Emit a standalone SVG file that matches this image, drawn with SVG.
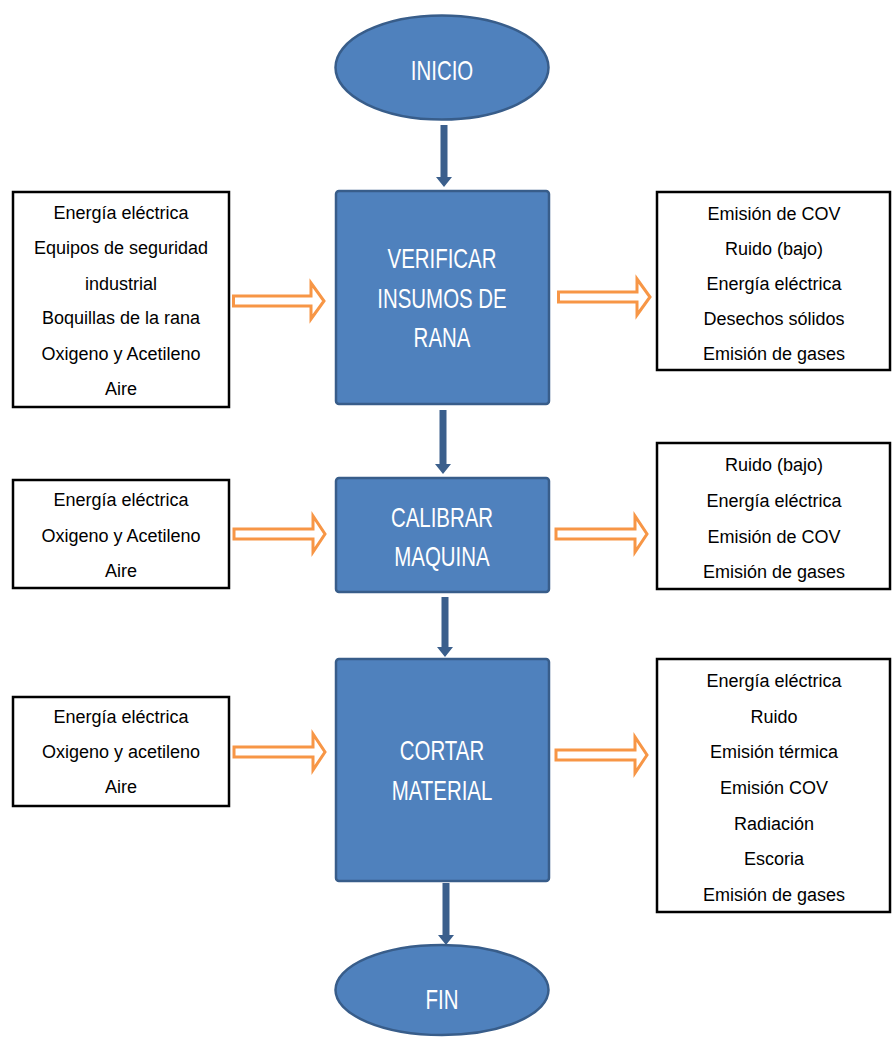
<svg xmlns="http://www.w3.org/2000/svg" width="892" height="1046" viewBox="0 0 892 1046">
  <style>
    .proc { fill: #4f81bd; stroke: #385d8a; stroke-width: 2.5; }
    .side { fill: #ffffff; stroke: #000000; stroke-width: 2.5; }
    .flow { fill: none; stroke: #f79646; stroke-width: 3; stroke-linejoin: miter; }
    .down { fill: #3b5f8c; }
    .lbl { font-family: "Liberation Sans", Arial, sans-serif; font-size: 28px; fill: #ffffff; text-anchor: middle; }
    .txt { font-family: "Liberation Sans", Arial, sans-serif; font-size: 18px; fill: #000000; text-anchor: middle; }
  </style>
  <rect width="892" height="1046" fill="#ffffff"/>

  <!-- vertical flow connectors and material in/out arrows -->
  <g id="connectors">
    <path class="down" d="M440.5 125 H447.5 V177 H452 L444 187 L436 177 H440.5 Z"/>
    <path class="down" d="M439.5 410 H446.5 V464 H451 L443 474 L435 464 H439.5 Z"/>
    <path class="down" d="M441.5 597 H448.5 V647 H453 L445 657 L437 647 H441.5 Z"/>
    <path class="down" d="M442.5 883 H449.5 V935 H454 L446 945 L438 935 H442.5 Z"/>

    <path class="flow" d="M233.5 296 H311 V283 L324 301 L311 319 V306 H233.5 Z"/>
    <path class="flow" d="M558.5 292 H637 V279 L650 297 L637 315 V302 H558.5 Z"/>
    <path class="flow" d="M234 529 H313 V516 L325 534 L313 552 V539 H234 Z"/>
    <path class="flow" d="M556 529 H635 V516 L647 534 L635 552 V539 H556 Z"/>
    <path class="flow" d="M234 747 H313 V734 L325 752 L313 770 V757 H234 Z"/>
    <path class="flow" d="M556 750 H635 V737 L647 755 L635 773 V760 H556 Z"/>
  </g>

  <g id="inicio">
    <ellipse class="proc" cx="442" cy="67.5" rx="106.5" ry="52"/>
    <text class="lbl" transform="translate(442 80) scale(0.73 1)">INICIO</text>
  </g>

  <g id="verificar">
    <rect class="proc" x="336" y="191" width="213" height="213" rx="3"/>
    <text class="lbl" transform="translate(442 268) scale(0.73 1)">VERIFICAR</text>
    <text class="lbl" transform="translate(442 308) scale(0.73 1)">INSUMOS DE</text>
    <text class="lbl" transform="translate(442 347) scale(0.73 1)">RANA</text>
  </g>

  <g id="calibrar">
    <rect class="proc" x="336" y="478" width="213" height="114" rx="3"/>
    <text class="lbl" transform="translate(442 527) scale(0.73 1)">CALIBRAR</text>
    <text class="lbl" transform="translate(442 566) scale(0.73 1)">MAQUINA</text>
  </g>

  <g id="cortar">
    <rect class="proc" x="336" y="659" width="213" height="222" rx="3"/>
    <text class="lbl" transform="translate(442 760) scale(0.73 1)">CORTAR</text>
    <text class="lbl" transform="translate(442 800) scale(0.73 1)">MATERIAL</text>
  </g>

  <g id="fin">
    <ellipse class="proc" cx="442" cy="990" rx="106.5" ry="45"/>
    <text class="lbl" transform="translate(442 1009) scale(0.73 1)">FIN</text>
  </g>

  <g id="entradas-verificar">
    <rect class="side" x="13" y="192" width="216" height="215"/>
    <text class="txt" x="121" y="219">Energía eléctrica</text>
    <text class="txt" x="121" y="254">Equipos de seguridad</text>
    <text class="txt" x="121" y="290">industrial</text>
    <text class="txt" x="121" y="324">Boquillas de la rana</text>
    <text class="txt" x="121" y="360">Oxigeno y Acetileno</text>
    <text class="txt" x="121" y="395">Aire</text>
  </g>

  <g id="salidas-verificar">
    <rect class="side" x="657" y="192" width="233" height="178"/>
    <text class="txt" x="774" y="220">Emisión de COV</text>
    <text class="txt" x="774" y="255">Ruido (bajo)</text>
    <text class="txt" x="774" y="290">Energía eléctrica</text>
    <text class="txt" x="774" y="325">Desechos sólidos</text>
    <text class="txt" x="774" y="360">Emisión de gases</text>
  </g>

  <g id="entradas-calibrar">
    <rect class="side" x="13" y="480" width="216" height="108"/>
    <text class="txt" x="121" y="506">Energía eléctrica</text>
    <text class="txt" x="121" y="542">Oxigeno y Acetileno</text>
    <text class="txt" x="121" y="577">Aire</text>
  </g>

  <g id="salidas-calibrar">
    <rect class="side" x="657" y="443" width="233" height="146"/>
    <text class="txt" x="774" y="471">Ruido (bajo)</text>
    <text class="txt" x="774" y="507">Energía eléctrica</text>
    <text class="txt" x="774" y="543">Emisión de COV</text>
    <text class="txt" x="774" y="578">Emisión de gases</text>
  </g>

  <g id="entradas-cortar">
    <rect class="side" x="13" y="697" width="216" height="109"/>
    <text class="txt" x="121" y="723">Energía eléctrica</text>
    <text class="txt" x="121" y="758">Oxigeno y acetileno</text>
    <text class="txt" x="121" y="793">Aire</text>
  </g>

  <g id="salidas-cortar">
    <rect class="side" x="657" y="659" width="233" height="253"/>
    <text class="txt" x="774" y="687">Energía eléctrica</text>
    <text class="txt" x="774" y="723">Ruido</text>
    <text class="txt" x="774" y="758">Emisión térmica</text>
    <text class="txt" x="774" y="794">Emisión COV</text>
    <text class="txt" x="774" y="830">Radiación</text>
    <text class="txt" x="774" y="865">Escoria</text>
    <text class="txt" x="774" y="901">Emisión de gases</text>
  </g>
</svg>
